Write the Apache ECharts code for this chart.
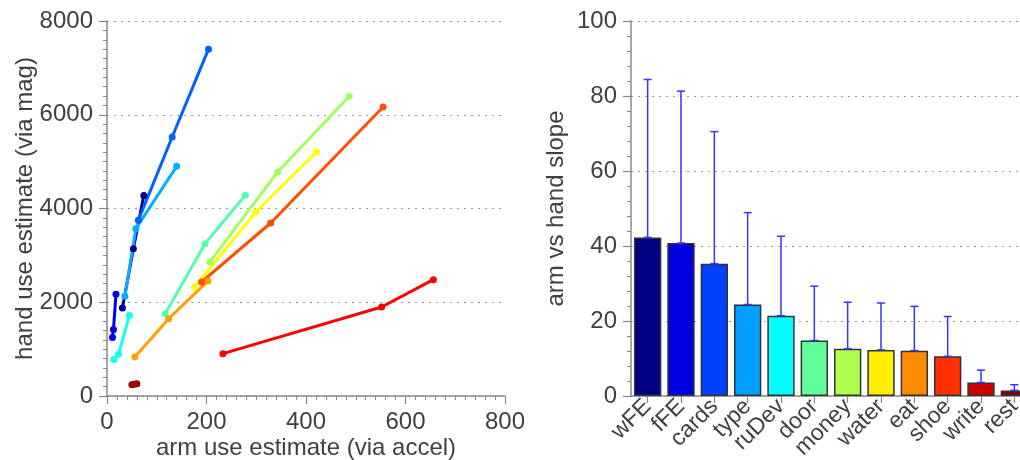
<!DOCTYPE html>
<html>
<head>
<meta charset="utf-8">
<script src="https://cdn.jsdelivr.net/npm/echarts@6/dist/echarts.min.js"></script>
<style>
  html, body { margin: 0; padding: 0; background: #fff; }
  #main { width: 1020px; height: 460px; }
</style>
</head>
<body>
<div id="main"></div>
<script>
// activities (same order in both panels)
var categories = ["wFE", "fFE", "cards", "type", "ruDev", "door", "money", "water", "eat", "shoe", "write", "rest"];

// left panel: arm use (via accel) vs hand use (via mag), 3 points per activity
var armEst = [
  [31, 53, 74],
  [11, 13, 18],
  [63, 131, 204],
  [36, 58, 140],
  [14, 23, 45],
  [117, 197, 278],
  [207, 343, 487],
  [176, 299, 421],
  [56, 124, 203],
  [190, 329, 555],
  [233, 552, 656],
  [50, 55, 60]
];
var handEst = [
  [1880, 3140, 4280],
  [1250, 1420, 2170],
  [3750, 5525, 7400],
  [2130, 3570, 4900],
  [780, 890, 1720],
  [1757, 3250, 4282],
  [2860, 4780, 6394],
  [2326, 3926, 5206],
  [832, 1650, 2454],
  [2432, 3691, 6166],
  [903, 1899, 2482],
  [242, 250, 263]
];

// right panel: slope mean and error (upper bar)
var slope    = [42.3, 40.8, 35.3, 24.4, 21.4, 14.8, 12.6, 12.3, 12.1, 10.6, 3.6, 1.5];
var slopeErr = [42.1, 40.5, 35.2, 24.5, 21.2, 14.5, 12.4, 12.5, 11.8, 10.6, 3.3, 1.5];

var lineColors = ["#000090", "#0000f0", "#0060ff", "#00b0ff", "#10ffef", "#50ffaf",
                  "#a0ff60", "#ffff00", "#ffa000", "#ff5000", "#ff0000", "#a00000"];
var barColors  = ["#000080", "#0000e0", "#0040ff", "#00a0ff", "#00ffff", "#60ff98",
                  "#b0ff50", "#ffee00", "#ff8c00", "#ff3000", "#cc0000", "#800000"];

var txt = "#404040";
var font = "Liberation Sans";

var dom = document.getElementById("main");
var myChart = echarts.init(dom, null, { renderer: "canvas" });

var axisCommon = {
  axisLine: { show: true, lineStyle: { color: "#888", width: 1.5 } },
  axisTick: { show: true, length: 8, lineStyle: { color: "#888", width: 1.2 } },
  minorTick: { show: true, length: 4, lineStyle: { color: "#888", width: 1 } },
  axisLabel: { color: txt, fontSize: 24, fontFamily: font, margin: 14,
               formatter: function (v) { return String(v); } },
  nameTextStyle: { color: txt, fontSize: 24, fontFamily: font },
  nameMoveOverlap: false,
  splitLine: { show: true, lineStyle: { color: "#999", type: [2, 5], width: 1 } }
};

var series = [];
for (var i = 0; i < categories.length; i++) {
  var pts = [];
  for (var j = 0; j < armEst[i].length; j++) {
    pts.push([armEst[i][j], handEst[i][j]]);
  }
  series.push({
    name: categories[i],
    type: "line",
    xAxisIndex: 0,
    yAxisIndex: 0,
    data: pts,
    symbol: "circle",
    symbolSize: 7,
    lineStyle: { width: 3, color: lineColors[i] },
    itemStyle: { color: lineColors[i] },
    silent: true
  });
}

series.push({
  type: "bar",
  xAxisIndex: 1,
  yAxisIndex: 1,
  barWidth: "82%",
  data: slope.map(function (v, k) {
    return { value: v, itemStyle: { color: barColors[k] } };
  }),
  itemStyle: { borderColor: "#333", borderWidth: 1.5 },
  silent: true
});

series.push({
  type: "custom",
  xAxisIndex: 1,
  yAxisIndex: 1,
  data: slope.map(function (v, k) { return [k, v, v + slopeErr[k]]; }),
  renderItem: function (params, api) {
    var lo = api.coord([api.value(0), api.value(1)]);
    var hi = api.coord([api.value(0), api.value(2)]);
    var w = 4;
    var st = { stroke: "#3535ff", lineWidth: 1.5 };
    return {
      type: "group",
      children: [
        { type: "line", shape: { x1: lo[0], y1: lo[1], x2: hi[0], y2: hi[1] }, style: st },
        { type: "line", shape: { x1: hi[0] - w, y1: hi[1], x2: hi[0] + w, y2: hi[1] }, style: st },
        { type: "line", shape: { x1: lo[0] - w, y1: lo[1], x2: lo[0] + w, y2: lo[1] }, style: st }
      ]
    };
  },
  z: 5,
  silent: true
});

var option = {
  animation: false,
  grid: [
    { left: 107, right: 515, top: 21, bottom: 64, outerBoundsMode: "none" },
    { left: 631, right: -11, top: 21, bottom: 64, outerBoundsMode: "none" }
  ],
  xAxis: [
    Object.assign({}, axisCommon, {
      gridIndex: 0,
      type: "value",
      min: 0, max: 800, interval: 200,
      minorTick: Object.assign({}, axisCommon.minorTick, { splitNumber: 10 }),
      splitLine: { show: false },
      name: "arm use estimate (via accel)",
      nameLocation: "middle",
      nameGap: 40
    }),
    {
      gridIndex: 1,
      type: "category",
      data: categories,
      axisLine: axisCommon.axisLine,
      axisTick: { show: true, alignWithLabel: true, length: 7, lineStyle: { color: "#888", width: 1.2 } },
      axisLabel: { color: txt, fontSize: 23, fontFamily: font, rotate: 45, interval: 0, margin: 7 }
    }
  ],
  yAxis: [
    Object.assign({}, axisCommon, {
      gridIndex: 0,
      type: "value",
      min: 0, max: 8000, interval: 2000,
      minorTick: Object.assign({}, axisCommon.minorTick, { splitNumber: 10 }),
      name: "hand use estimate (via mag)",
      nameLocation: "middle",
      nameGap: 70
    }),
    Object.assign({}, axisCommon, {
      gridIndex: 1,
      type: "value",
      min: 0, max: 100, interval: 20,
      minorTick: Object.assign({}, axisCommon.minorTick, { splitNumber: 5 }),
      name: "arm vs hand slope",
      nameLocation: "middle",
      nameGap: 63
    })
  ],
  series: series
};

myChart.setOption(option);
</script>
</body>
</html>
